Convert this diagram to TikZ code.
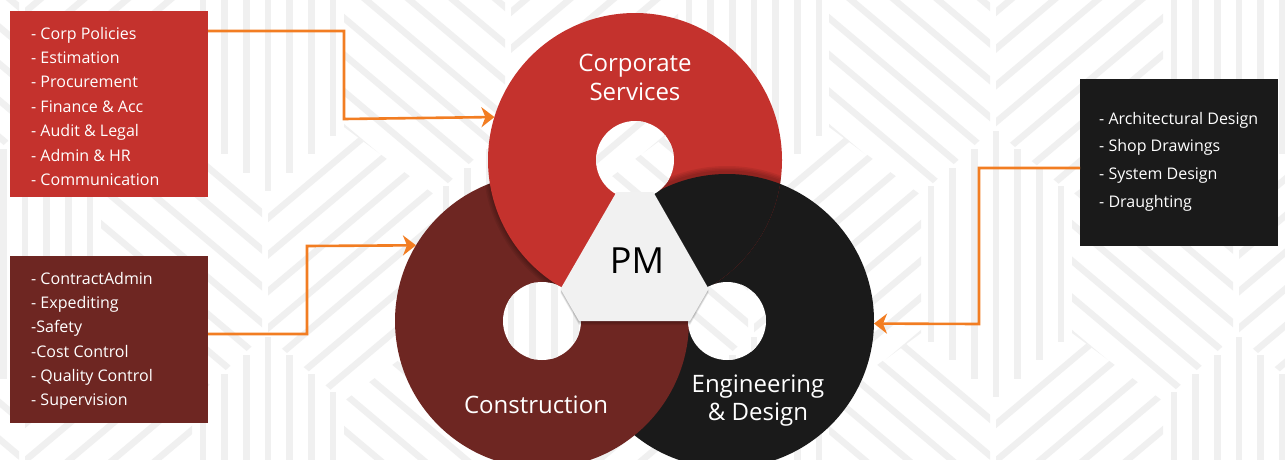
\documentclass[tikz,border=0pt]{standalone}
\usepackage{fontspec}
\setmainfont{Open Sans}
\usetikzlibrary{calc,arrows.meta}
\definecolor{cred}{HTML}{C4322D}
\definecolor{cmar}{HTML}{6E2622}
\definecolor{cblk}{HTML}{1A1A1A}
\definecolor{corg}{HTML}{F27D22}
\definecolor{cpat}{HTML}{F0F0F0}
\definecolor{ctri}{HTML}{F1F1F1}
% background pattern pieces
\newcommand\hexs[2]{%
  \foreach \k in {-3,...,3}{%
    \pgfmathsetmacro\hx{#1+21.7*\k}%
    \pgfmathsetmacro\hh{133-18.3*abs(\k)}%
    \fill[patc] (\hx-3.25,#2-\hh) rectangle (\hx+3.25,#2+\hh);
  }}
\newcommand\gapR[2]{%
  \begin{scope}
    \clip (#1,#2+133) -- (#1+76,#2+69) -- (#1+167,#2+137) -- (#1+167,#2+275) -- (#1+76,#2+343) -- (#1,#2+279) -- cycle;
    \foreach \m in {0,...,8}{\draw[patl] (#1-10,#2+168.4+36.7*\m) -- ++(280,-236);}
  \end{scope}}
\newcommand\gapL[2]{%
  \begin{scope}
    \clip (#1-6,#2+133) -- (#1-76,#2+69) -- (#1-167,#2+137) -- (#1-167,#2+275) -- (#1-76,#2+343) -- (#1-6,#2+279) -- cycle;
    \foreach \m in {0,...,8}{\draw[patl] (#1+10,#2+168.4+36.7*\m) -- ++(-280,-236);}
  \end{scope}}
\newcommand\bgpat{%
  \foreach \c in {268,754,1239}{\hexs{\c}{58}\hexs{\c}{470}\gapR{\c}{58}\gapL{\c}{58}}%
  \foreach \c in {25,511,996}{\hexs{\c}{264}\gapR{\c}{-148}\gapL{\c}{-148}\gapR{\c}{264}\gapL{\c}{264}}%
}
\begin{document}
\begin{tikzpicture}[x=1pt,y=-1pt,
  patc/.style={fill=cpat},
  patl/.style={draw=cpat, line width=6.5pt},
  listbox/.style={rectangle, inner sep=0, outer sep=0},
  disc/.style={circle, minimum size=294pt, inner sep=0, outer sep=0},
  listtext/.style={anchor=base west, inner sep=0, text=white},
  lbl/.style={anchor=base, inner sep=0, text=white},
  softshade/.style={fill=black, opacity=0.07},
  arr/.style={draw=corg, line width=2.6pt, -{Stealth[length=13pt,width=20pt,inset=4pt]}},
  ]
\useasboundingbox (0,0) rectangle (1285,459);
\fill[white] (0,0) rectangle (1285,459);
\begin{scope}
  \clip (0,0) rectangle (1285,459);
  \bgpat
\end{scope}
% three discs (cyclic overlap)
\node[disc, fill=cblk] (bc) at (727,321) {};
\node[disc, fill=cmar] (mc) at (542,321) {};
\begin{scope}
  \clip (542,321) circle (147);
  \foreach \s in {1.5,3,4.5,6}{\fill[softshade] (636,161) circle (147+\s);}
\end{scope}
\node[disc, fill=cred] (rc) at (635,160) {};
\begin{scope}
  \clip (635,160) circle (147);
  \foreach \s in {1.5,3,4.5,6}{\fill[softshade] (727,319) circle (147+\s);}
  \fill[cblk] (727,321) circle (147);
\end{scope}
% holes
\begin{scope}
  \clip (635,160) circle (39) (542,321) circle (39) (727,321) circle (39);
  \fill[white] (0,0) rectangle (1285,459);
  \bgpat
\end{scope}
% central triangle
\path ($(rc.center)!37pt!(bc.center)$) coordinate (t1)
      ($(bc.center)!37pt!(rc.center)$) coordinate (t2)
      ($(bc.center)!37pt!(mc.center)$) coordinate (t3)
      ($(mc.center)!37pt!(bc.center)$) coordinate (t4)
      ($(mc.center)!37pt!(rc.center)$) coordinate (t5)
      ($(rc.center)!37pt!(mc.center)$) coordinate (t6);
\foreach \s in {1,2,3,4}{
  \fill[black, opacity=0.07] ([yshift=-\s pt]t1) -- ([yshift=-\s pt]t2) -- ([yshift=-\s pt]t3) -- ([yshift=-\s pt]t4) -- ([yshift=-\s pt]t5) -- ([yshift=-\s pt]t6) -- cycle;
}
\fill[ctri] (t1) -- (t2) -- (t3) -- (t4) -- (t5) -- (t6) -- cycle;
\node[anchor=base, inner sep=0, font=\fontsize{36}{40}\selectfont] (pm) at (637,273) {PM};
% disc labels
\node[lbl, font=\fontsize{24}{29}\selectfont] (cs) at (635,71) {\parbox[t]{160pt}{\centering Corporate\\Services}};
\node[lbl, font=\fontsize{24}{29}\selectfont] (con) at (536,413) {Construction};
\node[lbl, font=\fontsize{24}{28.5}\selectfont] (eng) at (758,392) {\parbox[t]{160pt}{\centering Engineering\\\& Design}};
% list boxes
\node[listbox, fill=cred, minimum width=198pt, minimum height=186pt] (rb) at (109,104) {};
\node[listtext, font=\fontsize{16}{24.4}\selectfont] (rbt) at (31,39) {\parbox[t]{175pt}{\raggedright - Corp Policies\\- Estimation\\- Procurement\\- Finance \& Acc\\- Audit \& Legal\\- Admin \& HR\\- Communication}};
\node[listbox, fill=cmar, minimum width=198pt, minimum height=167pt] (mb) at (109,339.5) {};
\node[listtext, font=\fontsize{16}{24.34}\selectfont] (mbt) at (31,284) {\parbox[t]{175pt}{\raggedright - ContractAdmin\\- Expediting\\-Safety\\-Cost Control\\- Quality Control\\- Supervision}};
\node[listbox, fill=cblk, minimum width=198pt, minimum height=167pt] (bb) at (1179,162.5) {};
\node[listtext, font=\fontsize{16}{27.9}\selectfont] (bbt) at (1099,124) {\parbox[t]{175pt}{\raggedright - Architectural Design\\- Shop Drawings\\- System Design\\- Draughting}};
% connectors
\coordinate (k1) at (344,31);  \coordinate (k2) at (344,119);
\draw[arr] (rb.east |- k1) -- (k1) -- (k2) -- (rc.163.8);
\coordinate (k3) at (307,334); \coordinate (k4) at (307,246);
\draw[arr] (mb.east |- k3) -- (k3) -- (k4) -- (mc.149.3);
\coordinate (k5) at (979,168); \coordinate (k6) at (979,324);
\draw[arr] (bb.west |- k5) -- (k5) -- (k6) -- (bc.-1.2);
\end{tikzpicture}
\end{document}
